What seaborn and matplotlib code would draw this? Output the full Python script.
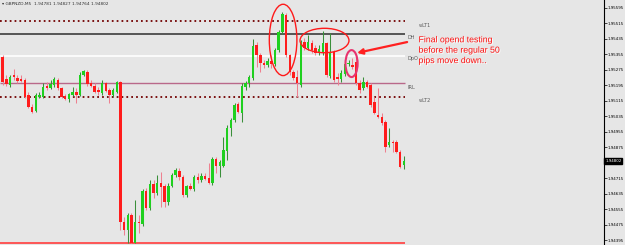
import matplotlib
matplotlib.use("Agg")
import matplotlib.pyplot as plt
import matplotlib.patheffects as pe
from matplotlib.patches import Ellipse
import numpy as np
import pandas as pd
import seaborn as sns

# ---------------- data (GBPNZD M5, prices in 1e-5 units) ----------------
opens = [195304, 195340, 195226, 195195, 195247, 195231, 195226, 195221, 195144, 195082,
         195061, 195133, 195133, 195190, 195180, 195195, 195221, 195180, 195139, 195123,
         195144, 195159, 195144, 195247, 195262, 195206, 195190, 195170, 195154, 195206,
         195170, 195144, 195159, 195211, 194488, 194447, 194525, 194380, 194488, 194478,
         194648, 194561, 194685, 194638, 194690, 194674, 194592, 194674, 194731, 194752,
         194721, 194628, 194674, 194659, 194721, 194705, 194726, 194716, 194690, 194814,
         194777, 194777, 194855, 194974, 195015, 195097, 195051, 195185, 195206, 195231,
         195402, 195350, 195309, 195299, 195319, 195304, 195376, 195469, 195557, 195350,
         195262, 195237, 195195, 195417, 195386, 195412, 195386, 195360, 195360, 195412,
         195242, 195366, 195237, 195226, 195252, 195304, 195299, 195314, 195206, 195180,
         195211, 195195, 195108, 195041, 195030, 195004, 194886, 194901, 194901, 194850,
         194781]
closes = [195340, 195211, 195201, 195237, 195237, 195216, 195216, 195133, 195082, 195056,
          195144, 195144, 195185, 195180, 195201, 195226, 195180, 195133, 195123, 195149,
          195159, 195144, 195247, 195268, 195201, 195190, 195159, 195159, 195206, 195164,
          195144, 195170, 195211, 194488, 194447, 194525, 194380, 194488, 194483, 194648,
          194561, 194685, 194638, 194690, 194669, 194592, 194674, 194731, 194757, 194721,
          194628, 194674, 194659, 194721, 194705, 194726, 194710, 194690, 194814, 194777,
          194798, 194860, 194974, 195015, 195092, 195056, 195190, 195206, 195237, 195397,
          195350, 195309, 195299, 195319, 195304, 195376, 195469, 195562, 195350, 195262,
          195231, 195206, 195417, 195386, 195417, 195376, 195360, 195381, 195412, 195247,
          195366, 195221, 195226, 195257, 195304, 195309, 195288, 195206, 195170, 195211,
          195185, 195092, 195051, 195030, 194999, 194875, 194901, 194896, 194850, 194772,
          194802]
highs = [195366, 195350, 195247, 195247, 195278, 195247, 195247, 195231, 195159, 195097,
         195154, 195159, 195206, 195211, 195221, 195237, 195231, 195185, 195149, 195154,
         195185, 195180, 195262, 195273, 195273, 195221, 195206, 195185, 195221, 195211,
         195180, 195180, 195216, 195216, 194514, 194535, 194535, 194602, 194525, 194659,
         194664, 194705, 194705, 194731, 194747, 194685, 194690, 194741, 194767, 194767,
         194731, 194679, 194690, 194731, 194741, 194741, 194741, 194793, 194824, 194824,
         194808, 194927, 194989, 195025, 195102, 195108, 195206, 195216, 195247, 195433,
         195417, 195360, 195324, 195335, 195350, 195386, 195479, 195572, 195567, 195355,
         195273, 195273, 195428, 195438, 195453, 195428, 195402, 195402, 195474, 195417,
         195464, 195376, 195257, 195273, 195314, 195324, 195335, 195350, 195221, 195237,
         195221, 195206, 195133, 195180, 195051, 195015, 194974, 194912, 194912, 194860,
         194827]
lows = [195293, 195195, 195190, 195185, 195221, 195206, 195211, 195128, 195077, 195051,
        195056, 195128, 195128, 195170, 195175, 195185, 195170, 195128, 195118, 195108,
        195139, 195102, 195139, 195242, 195190, 195185, 195154, 195144, 195144, 195159,
        195102, 195133, 195154, 194447, 194421, 194380, 194380, 194380, 194432, 194468,
        194550, 194550, 194612, 194628, 194566, 194566, 194576, 194669, 194721, 194705,
        194617, 194617, 194654, 194648, 194690, 194695, 194705, 194685, 194679, 194741,
        194721, 194772, 194808, 194932, 195004, 195051, 195004, 195170, 195185, 195221,
        195288, 195262, 195283, 195288, 195283, 195293, 195366, 195459, 195340, 195247,
        195221, 195133, 195185, 195376, 195376, 195360, 195350, 195350, 195350, 195237,
        195231, 195211, 195195, 195211, 195242, 195293, 195278, 195195, 195154, 195170,
        195180, 195082, 195046, 195025, 194989, 194850, 194875, 194850, 194844, 194767,
        194764]

level_names = ["wLT1", "DH", "DpO", "IRL", "wLT2", "LOD"]
level_prices = [1.95526, 1.95459, 1.95345, 1.95206, 1.95133, 1.94380]

tick_prices = [1.95595, 1.95515, 1.95435, 1.95355, 1.95275, 1.95195, 1.95115, 1.95035,
               1.94955, 1.94875, 1.94715, 1.94635, 1.94555, 1.94475, 1.94395]
tick_labels = ["%.5f" % t for t in tick_prices]
last_price = "1.94802"
header = "\u25BE GBPNZD,M5  1.94781 1.94827 1.94764 1.94802"
note = "Final opend testing\nbefore the regular 50\npips move down.."

df = pd.DataFrame({"open": np.array(opens) / 1e5, "close": np.array(closes) / 1e5,
                   "high": np.array(highs) / 1e5, "low": np.array(lows) / 1e5})
df["bar"] = np.arange(len(df))
df["up"] = df["close"] >= df["open"]

# ---------------- figure ----------------
sns.set_theme(style="white")
plt.rcParams["font.family"] = ["DejaVu Sans"]
bg = "#e6e6e6"
fig = plt.figure(figsize=(6.25, 2.45), dpi=100, facecolor=bg)
ax = fig.add_axes([0, 0, 604 / 625, 1])
ax.set_facecolor(bg)

x_left, x_right = 0.27, 164.4
y_bot, y_top = 1.94370, 1.95634
line_end = 110.3

# level lines
dot = (0, (0.9, 1.6))
ax.hlines(level_prices[0], x_left, line_end, colors="#7a1010", lw=1.4, linestyles=dot, zorder=1)
ax.hlines(level_prices[1], x_left, line_end, colors="#3c3c3c", lw=1.2, zorder=1)
ax.hlines(level_prices[2], x_left, line_end, colors="white", lw=1.2, zorder=1)
ax.hlines(level_prices[3], x_left, line_end, colors="#b9688a", lw=1.0, zorder=1)
ax.hlines(level_prices[4], x_left, line_end, colors="#7a1010", lw=1.4, linestyles=dot, zorder=1)
ax.hlines(level_prices[5], x_left, line_end, colors="#ff4a4a", lw=1.3, zorder=1)

lab_kw = dict(fontsize=3.6, color="#5a5a5a", va="center", ha="left")
ax.text(114.1, 1.95505, level_names[0], **lab_kw)
ax.text(111.1, 1.95443, level_names[1], **lab_kw)
ax.text(111.0, 1.95330, level_names[2], **lab_kw)
ax.text(111.1, 1.95185, level_names[3], **lab_kw)
ax.text(114.1, 1.95113, level_names[4], **lab_kw)

# candles
up = df[df["up"]]
dn = df[~df["up"]]
ax.vlines(up["bar"], up["low"], up["high"], colors="#3a8f3a", lw=0.75, zorder=2)
ax.vlines(dn["bar"], dn["low"], dn["high"], colors="#ee8090", lw=0.75, zorder=2)
minh = 0.00005
ax.bar(up["bar"], np.maximum(up["close"] - up["open"], minh), bottom=up["open"],
       width=0.66, color="#1fd01f", edgecolor="none", zorder=3)
ax.bar(dn["bar"], np.maximum(dn["open"] - dn["close"], minh), bottom=dn["close"],
       width=0.66, color="#ff1c1c", edgecolor="none", zorder=3)

# ellipses and arrow
ax.add_patch(Ellipse((77.2, 1.95428), 7.5, 0.00368, fill=False, ec="#ff1a1a", lw=1.0, zorder=4))
ax.add_patch(Ellipse((88.45, 1.95425), 13.3, 0.00126, fill=False, ec="#ff1a1a", lw=1.0, zorder=4))
ax.add_patch(Ellipse((95.8, 1.95306), 3.3, 0.00139, fill=False, ec="#e8336e", lw=1.5, zorder=4))
ax.annotate("", xy=(97.3, 1.95361), xytext=(110.9, 1.95417),
            arrowprops=dict(arrowstyle="-|>", color="#ff2020", lw=1.6, mutation_scale=8,
                            shrinkA=0, shrinkB=0), zorder=5)

ax.text(114.0, 1.95452, note, fontsize=6.3, color="#ff1010", family=["Liberation Sans", "DejaVu Sans"],
        va="top", ha="left", linespacing=1.2,
        path_effects=[pe.SimplePatchShadow(offset=(0.7, -0.7), shadow_rgbFace="white", alpha=1.0),
                      pe.Normal()])

# header text
ax.text(0.004, 0.99, header, transform=ax.transAxes, fontsize=3.1, color="#303030",
        va="top", ha="left")

# axes
ax.set_xlim(x_left, x_right)
ax.set_ylim(y_bot, y_top)
ax.set_xticks([])
for s in ["top", "left", "bottom"]:
    ax.spines[s].set_visible(False)
ax.spines["right"].set_color("black")
ax.spines["right"].set_linewidth(0.8)
ax.yaxis.tick_right()
ax.set_yticks(tick_prices)
ax.set_yticklabels(tick_labels)
ax.tick_params(axis="y", which="both", right=True, length=1.8, width=0.5, pad=0.8,
               labelsize=2.9, colors="black")
ax.text(1.002, 1.94802, last_price, transform=ax.get_yaxis_transform(), fontsize=2.9,
        color="white", va="center", ha="left",
        bbox=dict(boxstyle="square,pad=0.25", fc="black", ec="black"))

fig.savefig("out.png", dpi=100, facecolor=bg)
